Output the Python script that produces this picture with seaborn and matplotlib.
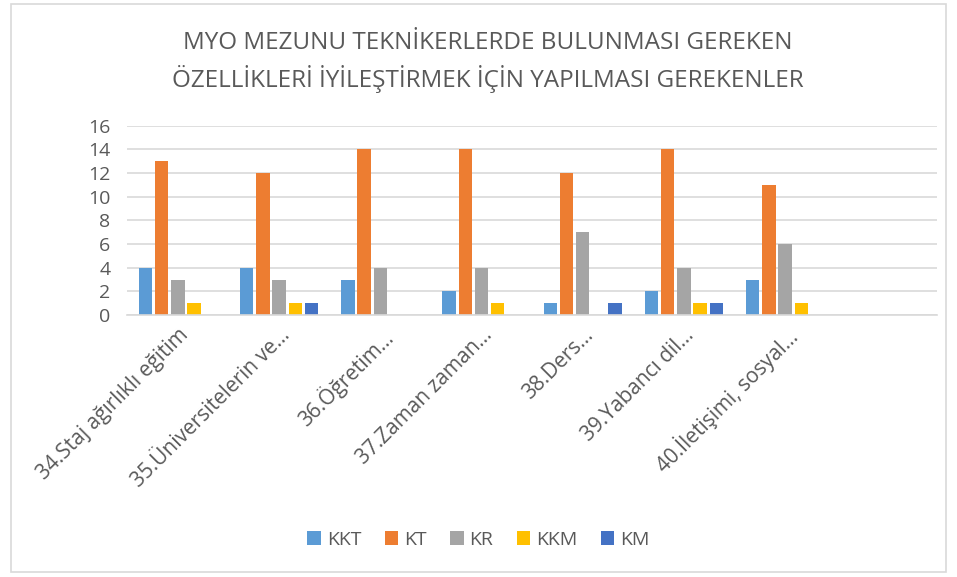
import pandas as pd
import matplotlib.pyplot as plt
import seaborn as sns
from matplotlib.patches import Rectangle

# --- data ---
categories = ['34.Staj ağırlıklı eğitim', '35.Üniversitelerin ve...', '36.Öğretim...',
              '37.Zaman zaman...', '38.Ders...', '39.Yabancı dil...', '40.İletişimi, sosyal...']
series = ['KKT', 'KT', 'KR', 'KKM', 'KM']
kkt = [4, 4, 3, 2, 1, 2, 3]
kt = [13, 12, 14, 14, 12, 14, 11]
kr = [3, 3, 4, 4, 7, 4, 6]
kkm = [1, 1, 0, 1, 0, 1, 1]
km = [0, 1, 0, 0, 1, 1, 0]
colors = ['#5B9BD5', '#ED7D31', '#A5A5A5', '#FFC000', '#4472C4']

rows = []
for s, vals in zip(series, [kkt, kt, kr, kkm, km]):
    for c, v in zip(categories, vals):
        rows.append({'cat': c, 'seri': s, 'val': v})
df = pd.DataFrame(rows)

sns.set_style('white')
plt.rcParams['font.family'] = ['Open Sans', 'DejaVu Sans']
txt = '#595959'

fig = plt.figure(figsize=(9.57, 5.77), dpi=100)
ax = fig.add_axes([0.133, 0.454, 0.846, 0.328])

# excel chart keeps one empty slot at the end
order = categories + [' ']
sns.barplot(data=df, x='cat', y='val', hue='seri', order=order, hue_order=series,
            palette=colors, saturation=1, width=0.8, gap=0.18, linewidth=0, ax=ax, legend=True)

ax.set_ylim(0, 16)
ax.set_yticks(range(0, 17, 2))
ax.yaxis.grid(True, color='#D9D9D9', linewidth=1.2)
ax.set_axisbelow(True)
for sp in ['top', 'right', 'left']:
    ax.spines[sp].set_visible(False)
ax.spines['bottom'].set_color('#D9D9D9')
ax.spines['bottom'].set_linewidth(1.2)
ax.set_xlabel('')
ax.set_ylabel('')
ax.tick_params(axis='both', length=0, colors=txt)
ax.tick_params(axis='y', pad=12, labelsize=14)
ax.tick_params(axis='x', pad=7, labelsize=15)
plt.setp(ax.get_xticklabels(), rotation=45, ha='right', rotation_mode='anchor')

fig.text(0.51, 1 - 62 / 577,
         'MYO MEZUNU TEKNİKERLERDE BULUNMASI GEREKEN\nÖZELLİKLERİ İYİLEŞTİRMEK İÇİN YAPILMASI GEREKENLER',
         color=txt, fontsize=17.5, ha='center', va='center', linespacing=1.45)

ax.legend(loc='center', ncol=5, frameon=False, fontsize=14, handlelength=0.7, handleheight=0.7,
          handletextpad=0.3, columnspacing=1.2, labelcolor=txt)
leg = ax.get_legend()
leg.set_bbox_to_anchor((0.5, 1 - 540 / 577), transform=fig.transFigure)

fig.patches.append(Rectangle((0.011, 0.008), 0.978, 0.985, transform=fig.transFigure,
                             fill=False, edgecolor='#D9D9D9', linewidth=1.2))

fig.savefig('out.png', dpi=100)
